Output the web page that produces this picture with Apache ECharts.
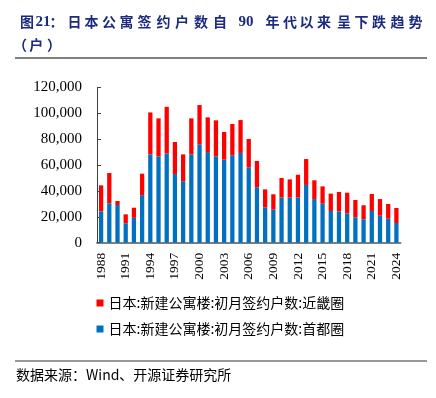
<!DOCTYPE html>
<html>
<head>
<meta charset="utf-8">
<script src="https://cdn.jsdelivr.net/npm/echarts@6/dist/echarts.min.js"></script>
<style>html,body{margin:0;padding:0;background:#fff}#c{width:436px;height:398px}</style>
</head>
<body>
<div id="c"></div>
<script>
const years = ['1988','1989','1990','1991','1992','1993','1994','1995','1996','1997','1998','1999','2000','2001','2002','2003','2004','2005','2006','2007','2008','2009','2010','2011','2012','2013','2014','2015','2016','2017','2018','2019','2020','2021','2022','2023','2024'];
const shutoken = [24200,30400,29100,15000,19200,36700,68200,66600,68800,53000,47500,68200,76000,70000,66700,64100,67500,69300,58200,42800,27300,25500,35000,34800,35000,44600,33700,30100,24500,24200,22700,19600,18100,24500,20800,18500,15200];
const kinki = [20100,23400,3100,6900,7800,16600,32400,29400,36100,24800,20700,27800,30300,26800,27800,21400,24200,25400,21900,20300,13900,11900,15000,14100,17500,20000,14500,13400,13400,15000,15900,13400,10800,13100,12900,11400,11600];
const nameKinki = '日本:新建公寓楼:初月签约户数:近畿圈';
const nameShuto = '日本:新建公寓楼:初月签约户数:首都圈';
const titleLine1 = [['图',27],['21',43],['：',56.5],['日',74.5],['本',91.5],['公',109],['寓',126.5],['签',144.5],['约',163.5],['户',182],['数',201],['自',220],['90',246],['年',272.5],['代',290],['以',306.5],['来',324],['呈',344],['下',361.5],['跌',379],['趋',397.5],['势',415.5]];
const titleLine2 = [['（',20],['户',36.2],['）',54]];
const sourceText = '数据来源：Wind、开源证券研究所';

const chart = echarts.init(document.getElementById('c'), null, {renderer:'canvas'});
const titleColor = '#1c2b80';
const graphics = [];
function addTitleChar(t, x, y){
  const isDigit = /^[0-9]+$/.test(t);
  graphics.push({type:'text', x:x, y:isDigit ? y + 1 : y, style:{text:t, align:'center', verticalAlign:'middle',
    font: isDigit ? 'bold 15px "Liberation Serif"' : 'bold 14px "Noto Sans CJK SC"', fill:titleColor}});
}
titleLine1.forEach(([t,x]) => addTitleChar(t, x, 21.5));
titleLine2.forEach(([t,x]) => addTitleChar(t, x, 45));
graphics.push({type:'line', shape:{x1:15, y1:58, x2:427, y2:58}, style:{stroke:'#555', lineWidth:1.5}});
graphics.push({type:'line', shape:{x1:15, y1:361, x2:427, y2:361}, style:{stroke:'#333', lineWidth:1}});
graphics.push({type:'text', x:16, y:375, style:{text:sourceText, verticalAlign:'middle', font:'14px "Noto Sans CJK SC"', fill:'#000'}});

chart.setOption({
  animation:false,
  grid:{left:97, right:35.5, top:87.3, bottom:155.3},
  legend:{orient:'vertical', left:96.5, top:296, padding:0, itemWidth:7, itemHeight:7, itemGap:12, icon:'rect',
    textStyle:{fontSize:14, fontFamily:'Noto Sans CJK SC', color:'#000'},
    data:[nameKinki, nameShuto]},
  xAxis:{type:'category', data:years,
    axisLine:{lineStyle:{color:'#7f7f7f', width:2}},
    axisTick:{inside:true, interval:2, length:3, lineStyle:{color:'#7f7f7f'}},
    axisLabel:{interval:2, rotate:90, margin:10, fontFamily:'Liberation Serif', fontSize:13.5, color:'#000'}},
  yAxis:{type:'value', min:0, max:120000, interval:20000,
    axisLine:{show:true, lineStyle:{color:'#404040'}},
    axisTick:{show:true, inside:true, length:4, lineStyle:{color:'#404040'}},
    splitLine:{show:false},
    axisLabel:{margin:15, fontFamily:'Liberation Serif', fontSize:15, color:'#000',
      formatter: v => v.toLocaleString('en-US')}},
  series:[
    {name:nameShuto, type:'bar', stack:'total', data:shutoken, barWidth:'52%', itemStyle:{color:'#0070C0'}},
    {name:nameKinki, type:'bar', stack:'total', data:kinki, barWidth:'52%', itemStyle:{color:'#FF0000'}}
  ],
  graphic:graphics
});
</script>
</body>
</html>
